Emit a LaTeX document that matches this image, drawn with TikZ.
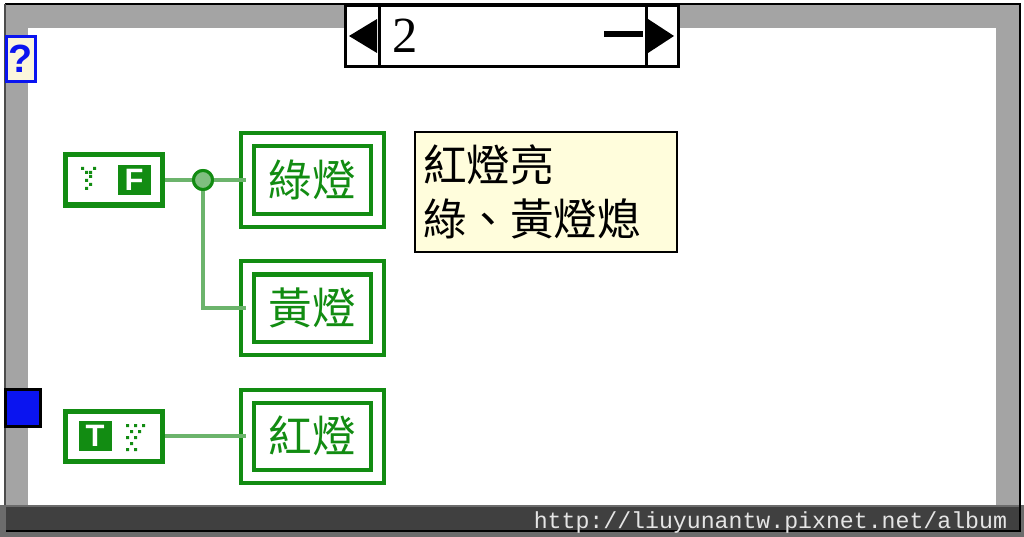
\documentclass[tikz,border=0pt]{standalone}
\usepackage{fontspec}
\usepackage{tikz}
\usetikzlibrary{shapes.geometric, arrows.meta, positioning, calc}
\setmainfont{Liberation Serif}
\setsansfont{Liberation Sans}
\setmonofont{Liberation Mono}
\newfontfamily\cjk{Noto Sans CJK TC}
\definecolor{lvgreen}{HTML}{128C12}
\definecolor{lvwire}{HTML}{6CB46C}
\definecolor{lvjunc}{HTML}{80BF80}
\definecolor{lvframe}{HTML}{A4A4A4}
\definecolor{lvbar}{HTML}{404040}
\definecolor{lvbaredge}{HTML}{6C6C6C}
\definecolor{lvnote}{HTML}{FFFDDC}
\definecolor{lvcream}{HTML}{FBF6DC}
\definecolor{lvblue}{HTML}{0A14F0}

\begin{document}
\begin{tikzpicture}[x=0.25mm, y=-0.25mm,
    lamp/.style={rectangle, draw=lvgreen, line width=1mm, double=white, double distance=2.25mm, minimum width=32.5mm, minimum height=20mm, inner sep=0pt, text=lvgreen, font=\cjk\fontsize{31}{37}\selectfont},
    const/.style={rectangle, draw=lvgreen, line width=1.25mm, fill=white, minimum width=24.25mm, minimum height=12.5mm},
    bool/.style={rectangle, fill=lvgreen, text=white, minimum width=8.25mm, minimum height=7.5mm, inner sep=0pt, font=\sffamily\bfseries\fontsize{22}{22}\selectfont},
    wire/.style={line width=1mm, color=lvwire},
    selbox/.style={rectangle, draw=black, line width=0.75mm, fill=white, minimum height=15.25mm, inner sep=0pt, outer sep=0pt},
    note/.style={rectangle, draw=black, line width=0.3mm, fill=lvnote, minimum width=65.5mm, minimum height=30mm, text width=61.5mm, inner xsep=2mm, align=left, font=\cjk\fontsize{31}{38}\selectfont}
]
\useasboundingbox (0,0) rectangle (1024,537);
\fill[white] (0,0) rectangle (1024,537);

% Frame
\fill[lvframe] (5,4) rectangle (1020,533);
\fill[white] (28,28) rectangle (996,505);
\draw[black, line width=0.5mm] (5,4) -- (1020,4) -- (1020,533);
\draw[black!70, line width=0.3mm] (5,4) -- (5,533);

% Watermark bar
\fill[lvbaredge] (0,505) rectangle (1024,537);
\fill[lvbar] (6,507) rectangle (1019,531);
\draw[black, line width=0.6mm] (6,531) -- (1020,531) -- (1020,505);
\node[anchor=base east, text=black!10, font=\ttfamily\fontsize{16.5}{18}\selectfont] (url) at (1012,528) {http://liuyunantw.pixnet.net/album};

% Case selector
\node[selbox, minimum width=8.5mm] (selL) at (362,36) {};
\node[selbox, minimum width=66.75mm, right=0pt of selL] (selM) {};
\node[selbox, minimum width=8mm, right=0pt of selM] (selR) {};
\fill[black] ($(selL.east)+(-2,-17)$) -- ($(selL.west)+(4,0)$) -- ($(selL.east)+(-2,17)$) -- cycle;
\fill[black] ($(selR.west)+(2,-17)$) -- ($(selR.east)+(-4,0)$) -- ($(selR.west)+(2,17)$) -- cycle;
\node[anchor=west, font=\fontsize{36}{36}\selectfont, inner sep=0pt] (casenum) at (392,36) {2};
\node[fill=black, minimum width=9.75mm, minimum height=1.4mm, inner sep=0pt] (casedash) at (623,34) {};

% Selector terminal and tunnel
\node[rectangle, draw=lvblue, line width=0.75mm, fill=lvcream, minimum width=7.25mm, minimum height=11.25mm, inner sep=0pt, text=lvblue, font=\sffamily\bfseries\fontsize{28}{28}\selectfont] (qmark) at (21,59) {?};
\node[rectangle, draw=black, line width=0.75mm, fill=lvblue, minimum width=8.5mm, minimum height=9.25mm] (tunnel) at (23,408) {};

% Constants
\node[const] (cF) at (114,180) {};
\node[bool] (bF) at (134,180) {F};
\fill[lvgreen] (81,167) rectangle ++(3,3) (93,167) rectangle ++(3,3)
    (85,171) rectangle ++(3,3) (89,171) rectangle ++(3,3)
    (89,175) rectangle ++(3,3) (85,179) rectangle ++(3,3)
    (89,183) rectangle ++(3,3) (85,187) rectangle ++(3,3);

\node[const] (cT) at (114,436) {};
\node[bool] (bT) at (95,436) {T};
\fill[lvgreen] (126,424) rectangle ++(3,3) (134,424) rectangle ++(3,3) (142,424) rectangle ++(3,3)
    (130,430) rectangle ++(3,3) (138,430) rectangle ++(3,3)
    (126,436) rectangle ++(3,3) (134,436) rectangle ++(3,3)
    (130,442) rectangle ++(3,3)
    (126,448) rectangle ++(3,3) (134,448) rectangle ++(3,3);

% Lamps
\node[lamp] (green) at (312.5,180) {綠燈};
\node[lamp] (yellow) at (312.5,308) {黃燈};
\node[lamp] (red) at (312.5,436) {紅燈};

% Wires
\node[circle, draw=lvgreen, line width=0.75mm, fill=lvjunc, minimum size=4.75mm, inner sep=0pt] (jn) at (203,180) {};
\draw[wire] (cF) -- (jn);
\draw[wire] (jn) -- (green);
\draw[wire] (jn) |- (yellow);
\draw[wire] (cT) -- (red);
\node[circle, draw=lvgreen, line width=0.75mm, fill=lvjunc, minimum size=4.75mm, inner sep=0pt] at (jn) {};

% Note
\node[note] (remark) at (546,192) {紅燈亮\\綠、黃燈熄};

\end{tikzpicture}
\end{document}
